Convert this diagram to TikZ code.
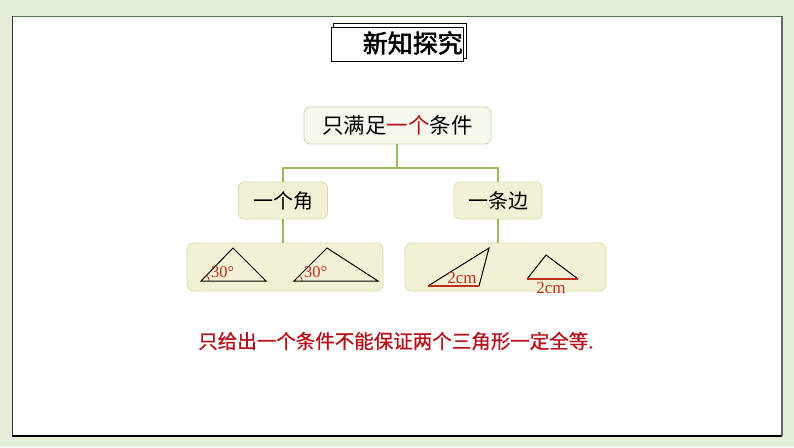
\documentclass[tikz,border=0pt]{standalone}
\usepackage{fontspec}
\setmainfont{Liberation Serif}
\newfontfamily\cjk{Noto Sans CJK SC}
\newfontfamily\cjkb{Noto Sans CJK SC}[FakeBold=2]
\newfontfamily\cjkm{Noto Sans CJK SC}[FakeBold=0.8]
\definecolor{bgc}{HTML}{E3EED9}
\definecolor{linec}{HTML}{9BBB59}
\definecolor{topfill}{HTML}{F5F9EE}
\definecolor{topdraw}{HTML}{C4D8A6}
\definecolor{boxfill}{HTML}{F2F1D6}
\definecolor{boxdraw}{HTML}{D6DBA8}
\definecolor{darkred}{HTML}{B5121B}
\definecolor{labred}{HTML}{C0301E}
\tikzset{
  topbox/.style={draw=topdraw, fill=topfill, rounded corners=6pt, line width=0.8pt,
    minimum width=187pt, minimum height=37pt, inner sep=0pt, font=\cjk\fontsize{21.5}{21.5}\selectfont},
  catbox/.style={draw=boxdraw, fill=boxfill, rounded corners=6pt, line width=0.8pt,
    minimum height=37pt, inner sep=0pt, font=\cjk\fontsize{20}{20}\selectfont},
  picbox/.style={draw=boxdraw, fill=boxfill, rounded corners=7pt, line width=0.8pt,
    minimum height=48pt, inner sep=0pt},
  conn/.style={draw=linec, line width=1.2pt},
  tri/.style={draw=black, line width=1pt, line join=miter},
  lab/.style={text=labred, font=\fontsize{16.5}{16.5}\selectfont, inner sep=0pt},
  arcmark/.style={draw=labred, line width=0.7pt},
  titlebox/.style={draw=black, fill=white, line width=0.6pt}
}
\begin{document}
\begin{tikzpicture}[x=1pt,y=-1pt]
\useasboundingbox (0,0) rectangle (794,447);
\fill[bgc] (0,0) rectangle (794,447);
% main white frame
\fill[white] (12,16) rectangle (782,436);
\draw[draw=black!55!green!40!gray, line width=0.8pt] (12,16) -- (782,16);
\draw[black!80, line width=0.8pt] (12,16) -- (12,436);
\draw[black!60, line width=1.2pt] (782,16) -- (782,436);
\draw[black, line width=1.3pt] (12,436) -- (782,436);
% title
\draw[titlebox] (333,23) rectangle (466,58);
\draw[titlebox] (331,27) rectangle (463,61);
\node[anchor=east, inner sep=0pt, font=\cjkb\fontsize{25}{25}\selectfont] (title) at (463,43) {新知探究};
% tree
\node[topbox] (top) at (397.5,125.5) {只满足\textcolor{darkred}{一个}条件};
\node[catbox, minimum width=89pt] (angle) at (283,200.5) {一个角};
\node[catbox, minimum width=88pt] (side) at (498,200.5) {一条边};
\node[picbox, minimum width=196pt] (pl) at (285,267) {};
\node[picbox, minimum width=201pt] (pr) at (505.5,267) {};
\coordinate (j) at (397,168);
\draw[conn] (top.south -| j) -- (j);
\draw[conn] (angle.north) |- (j) -| (side.north);
\draw[conn] (angle.south) -- (angle.south |- pl.north);
\draw[conn] (side.south) -- (side.south |- pr.north);
% left triangles
\draw[tri] (201,281) -- (233,248) -- (266,281) -- cycle;
\draw[arcmark] (209,281) arc[start angle=0, end angle=45, radius=8pt];
\node[lab, anchor=west] (a1) at (211,272) {30°};
\draw[tri] (294,281) -- (327,248) -- (378,281) -- cycle;
\draw[arcmark] (302,281) arc[start angle=0, end angle=45, radius=8pt];
\node[lab, anchor=west] (a2) at (304,272) {30°};
% right triangles
\draw[tri] (428,286) -- (489,248) -- (479,286);
\draw[labred, line width=1.2pt] (428,286) -- (479,286);
\node[lab, font=\fontsize{17}{17}\selectfont, anchor=center] (s1) at (462,278) {2cm};
\draw[tri] (527,279) -- (546,255) -- (578,279);
\draw[labred, line width=1.2pt] (527,279) -- (578,279);
\node[lab, font=\fontsize{17}{17}\selectfont, anchor=center] (s2) at (551,288) {2cm};
% conclusion
\node[text=darkred, inner sep=0pt, font=\cjkm\fontsize{19.5}{19.5}\selectfont] (concl) at (396,341) {只给出一个条件不能保证两个三角形一定全等.};
\end{tikzpicture}
\end{document}
